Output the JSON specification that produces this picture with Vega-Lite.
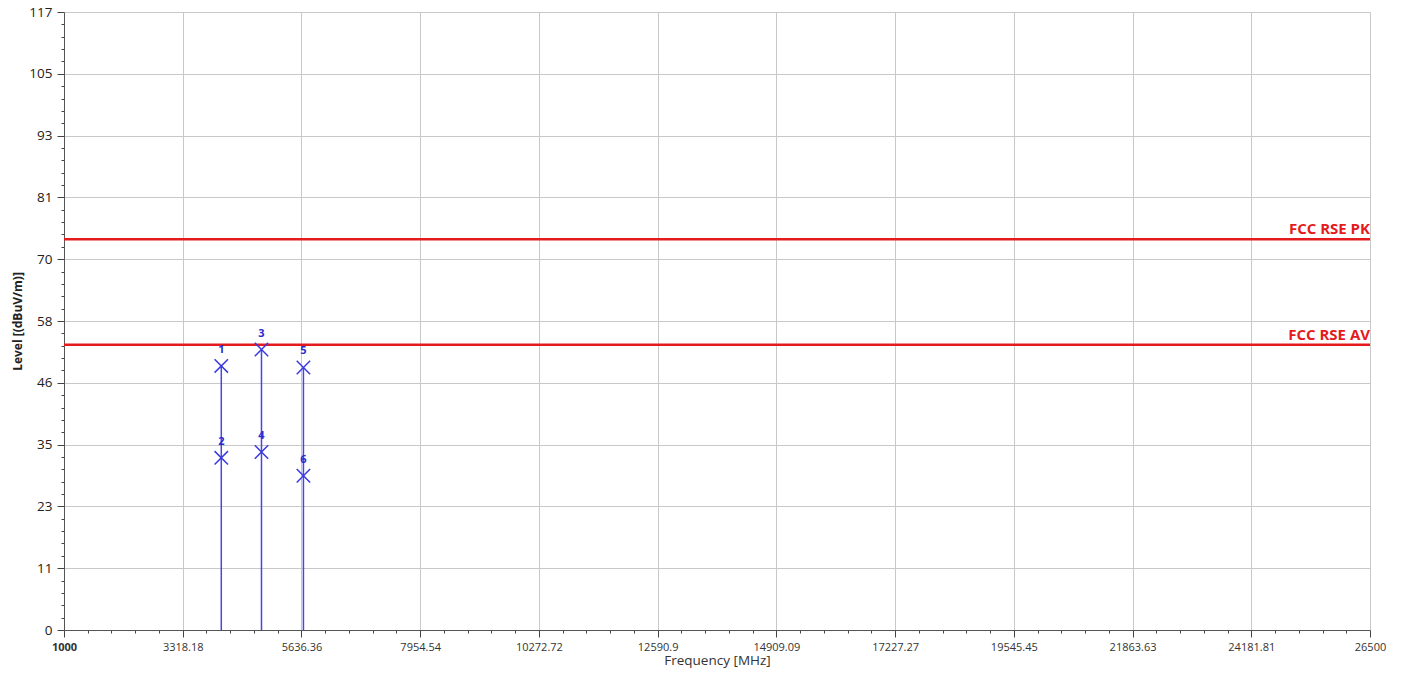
{
  "$schema": "https://vega.github.io/schema/vega-lite/v6.json",
  "width": 1306,
  "height": 618,
  "autosize": "none",
  "padding": {"left": 64, "top": 12, "right": 35, "bottom": 43},
  "background": "white",
  "config": {
    "view": {"stroke": null},
    "font": "Open Sans"
  },
  "datasets": {
    "markers": [
      {"freq": 4071, "level": 50.0, "id": "1"},
      {"freq": 4071, "level": 32.6, "id": "2"},
      {"freq": 4856, "level": 53.1, "id": "3"},
      {"freq": 4856, "level": 33.7, "id": "4"},
      {"freq": 5675, "level": 49.7, "id": "5"},
      {"freq": 5675, "level": 29.2, "id": "6"}
    ],
    "limits": [
      {"name": "FCC RSE PK", "level": 74},
      {"name": "FCC RSE AV", "level": 54}
    ]
  },
  "encoding": {
    "x": {
      "type": "quantitative",
      "scale": {"domain": [1000, 26500], "nice": false, "zero": false},
      "axis": {
        "title": "Frequency [MHz]",
        "titleFont": "Open Sans",
        "titleFontSize": 13.5,
        "titleFontWeight": "normal",
        "titleColor": "#333333",
        "titlePadding": 1,
        "values": [1000, 1463.636, 1927.273, 2390.909, 2854.545, 3318.1818, 3781.818, 4245.455, 4709.091, 5172.727, 5636.3636, 6100, 6563.636, 7027.273, 7490.909, 7954.5454, 8418.182, 8881.818, 9345.455, 9809.091, 10272.7272, 10736.364, 11200, 11663.636, 12127.273, 12590.909, 13054.545, 13518.182, 13981.818, 14445.455, 14909.0909, 15372.727, 15836.364, 16300, 16763.636, 17227.2727, 17690.909, 18154.545, 18618.182, 19081.818, 19545.4545, 20009.091, 20472.727, 20936.364, 21400, 21863.6363, 22327.273, 22790.909, 23254.545, 23718.182, 24181.8181, 24645.455, 25109.091, 25572.727, 26036.364, 26500],
        "labelExpr": "abs((datum.value-1000)/2318.18182 - round((datum.value-1000)/2318.18182)) < 0.02 ? toString(floor(datum.value*100+0.001)/100) : ''",
        "labelFont": "Open Sans",
        "labelFontSize": 11,
        "labelColor": "#333333",
        "labelFontWeight": {"condition": {"test": "datum.value == 1000", "value": "bold"}, "value": "normal"},
        "labelOverlap": false,
        "labelBound": false,
        "labelFlush": false,
        "labelPadding": 4,
        "tickSize": {"condition": {"test": "abs((datum.value-1000)/2318.18182 - round((datum.value-1000)/2318.18182)) < 0.02", "value": 7}, "value": 3},
        "tickColor": "#444444",
        "tickWidth": 1,
        "domainColor": "#555555",
        "domainWidth": 1,
        "grid": true,
        "gridColor": "#c8c8c8",
        "gridWidth": 1,
        "gridOpacity": {"condition": {"test": "abs((datum.value-1000)/2318.18182 - round((datum.value-1000)/2318.18182)) < 0.02", "value": 1}, "value": 0}
      }
    },
    "y": {
      "type": "quantitative",
      "scale": {"domain": [0, 117], "nice": false, "zero": true},
      "axis": {
        "title": "Level [(dBuV/m)]",
        "titleFont": "Open Sans",
        "titleFontSize": 12,
        "titleFontWeight": "bold",
        "titleColor": "#222222",
        "titlePadding": 4,
        "values": [0, 2.34, 4.68, 7.02, 9.36, 11.7, 14.04, 16.38, 18.72, 21.06, 23.4, 25.74, 28.08, 30.42, 32.76, 35.1, 37.44, 39.78, 42.12, 44.46, 46.8, 49.14, 51.48, 53.82, 56.16, 58.5, 60.84, 63.18, 65.52, 67.86, 70.2, 72.54, 74.88, 77.22, 79.56, 81.9, 84.24, 86.58, 88.92, 91.26, 93.6, 95.94, 98.28, 100.62, 102.96, 105.3, 107.64, 109.98, 112.32, 114.66, 117],
        "labelExpr": "abs(datum.value/11.7 - round(datum.value/11.7)) < 0.02 ? toString(floor(datum.value+0.001)) : ''",
        "labelFont": "Open Sans",
        "labelFontSize": 13.5,
        "labelColor": "#222222",
        "labelOverlap": false,
        "labelBound": false,
        "labelFlush": false,
        "labelPadding": 5,
        "tickSize": {"condition": {"test": "abs(datum.value/11.7 - round(datum.value/11.7)) < 0.02", "value": 7}, "value": 3},
        "tickColor": "#444444",
        "domainColor": "#555555",
        "grid": true,
        "gridColor": "#c8c8c8",
        "gridWidth": 1,
        "gridOpacity": {"condition": {"test": "abs(datum.value/11.7 - round(datum.value/11.7)) < 0.02", "value": 1}, "value": 0}
      }
    }
  },
  "layer": [
    {
      "data": {"name": "limits"},
      "mark": {"type": "rule", "color": "#e41a1c", "strokeWidth": 2.5},
      "encoding": {"y": {"field": "level", "type": "quantitative"}}
    },
    {
      "data": {"name": "limits"},
      "mark": {"type": "text", "color": "#e41a1c", "fontWeight": "bold", "fontSize": 15, "font": "Open Sans", "align": "right", "baseline": "bottom", "dy": -2},
      "encoding": {
        "x": {"datum": 26500},
        "y": {"field": "level", "type": "quantitative"},
        "text": {"field": "name"}
      }
    },
    {
      "data": {"name": "markers"},
      "transform": [{"aggregate": [{"op": "max", "field": "level", "as": "top"}], "groupby": ["freq"]}],
      "mark": {"type": "rule", "color": "#4646e6", "strokeWidth": 1.5},
      "encoding": {
        "x": {"field": "freq", "type": "quantitative"},
        "y": {"field": "top", "type": "quantitative"},
        "y2": {"datum": 0}
      }
    },
    {
      "data": {"name": "markers"},
      "mark": {"type": "point", "shape": "M-1,-1L1,1M1,-1L-1,1", "filled": false, "size": 180, "color": "#3a3ae0", "strokeWidth": 1.5, "opacity": 1},
      "encoding": {
        "x": {"field": "freq", "type": "quantitative"},
        "y": {"field": "level", "type": "quantitative"}
      }
    },
    {
      "data": {"name": "markers"},
      "mark": {"type": "text", "color": "#2b2bd0", "fontWeight": "bold", "fontSize": 11, "font": "Open Sans", "align": "center", "baseline": "middle", "dy": -16},
      "encoding": {
        "x": {"field": "freq", "type": "quantitative"},
        "y": {"field": "level", "type": "quantitative"},
        "text": {"field": "id"}
      }
    }
  ]
}
